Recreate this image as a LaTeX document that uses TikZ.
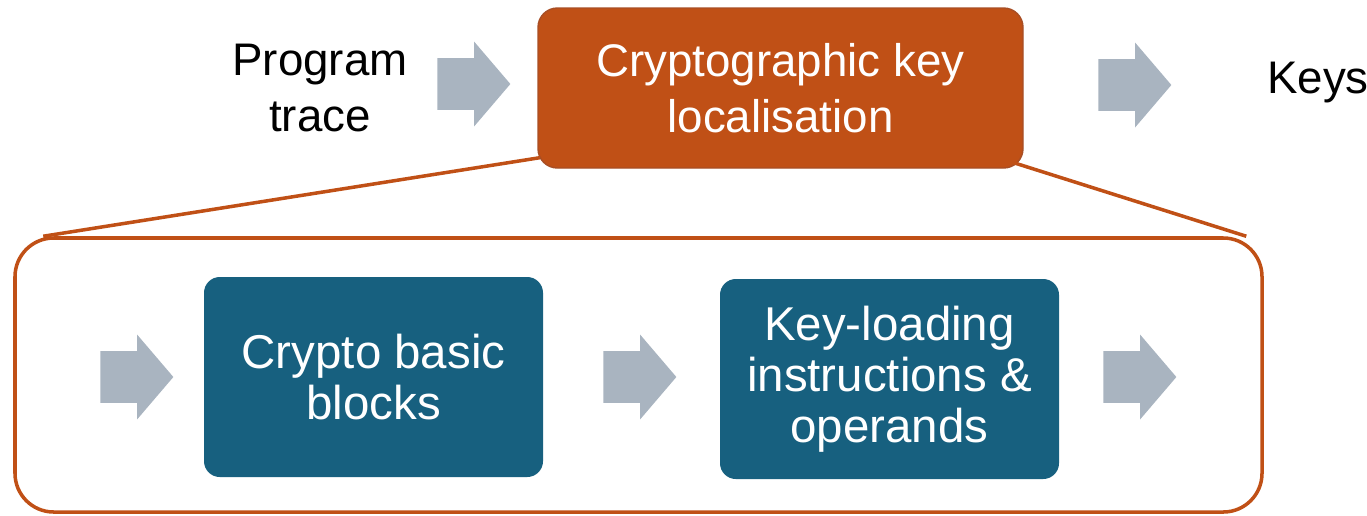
\documentclass[tikz,border=0pt]{standalone}
\usepackage{fontspec}
\setmainfont{Liberation Sans}
\usepackage{xcolor}
\usetikzlibrary{arrows.meta,positioning,calc,shapes.arrows}
\definecolor{keyorange}{HTML}{C05016}
\definecolor{keyedge}{HTML}{A84E25}
\definecolor{stageblue}{HTML}{17607F}
\definecolor{flowgray}{HTML}{A9B4C0}
\tikzset{
  flowarrow/.style={single arrow, fill=flowgray, draw=none, inner xsep=0pt,
    inner ysep=0.51cm, minimum height=1.46cm, single arrow head extend=0.33cm,
    single arrow tip angle=99, anchor=tail},
  stagebox/.style={rounded corners=9pt, fill=stageblue, text=white, align=center,
    minimum width=6.78cm, minimum height=4cm, font=\fontsize{27}{29}\selectfont},
}

\begin{document}
\begin{tikzpicture}[font=\fontsize{26}{32}\selectfont]
  \useasboundingbox (0,0) rectangle (27.34,-10.3);
  % zoomed-in stage
  \node[draw=keyorange, line width=2pt, rounded corners=22pt,
        minimum width=24.94cm, minimum height=5.48cm] (stage) at (12.77,-7.5) {};
  \node[rounded corners=11pt, fill=keyorange, draw=keyedge, line width=0.8pt,
        text=white, align=center, minimum width=9.7cm, minimum height=3.2cm]
        (keyloc) at (15.61,-1.76) {Cryptographic key\\localisation};
  \draw[keyorange, line width=2pt] ($(keyloc.south west)+(0.05,0.22)$) -- ($(stage.north west)+(0.6,0)$);
  \draw[keyorange, line width=2pt] ($(keyloc.south east)+(-0.2,0.12)$) -- ($(stage.north east)+(-0.35,0)$);
  \node[align=center] (trace) at (6.4,-1.76) {Program\\trace};
  \node[flowarrow] (in) at (8.74,-1.68) {};
  \node[flowarrow] (out) at (21.96,-1.7) {};
  \node[anchor=west] (keys) at (25.22,-1.66) {Keys};
  % inside the stage
  \node[flowarrow] (s0) at (2.0,-7.54) {};
  \node[stagebox] (bb) at (7.47,-7.54) {Crypto basic\\blocks};
  \node[flowarrow] (s1) at (12.06,-7.54) {};
  \node[stagebox] (ld) at (17.79,-7.58) {Key-loading\\instructions \&\\operands};
  \node[flowarrow] (s2) at (22.06,-7.54) {};
\end{tikzpicture}
\end{document}
